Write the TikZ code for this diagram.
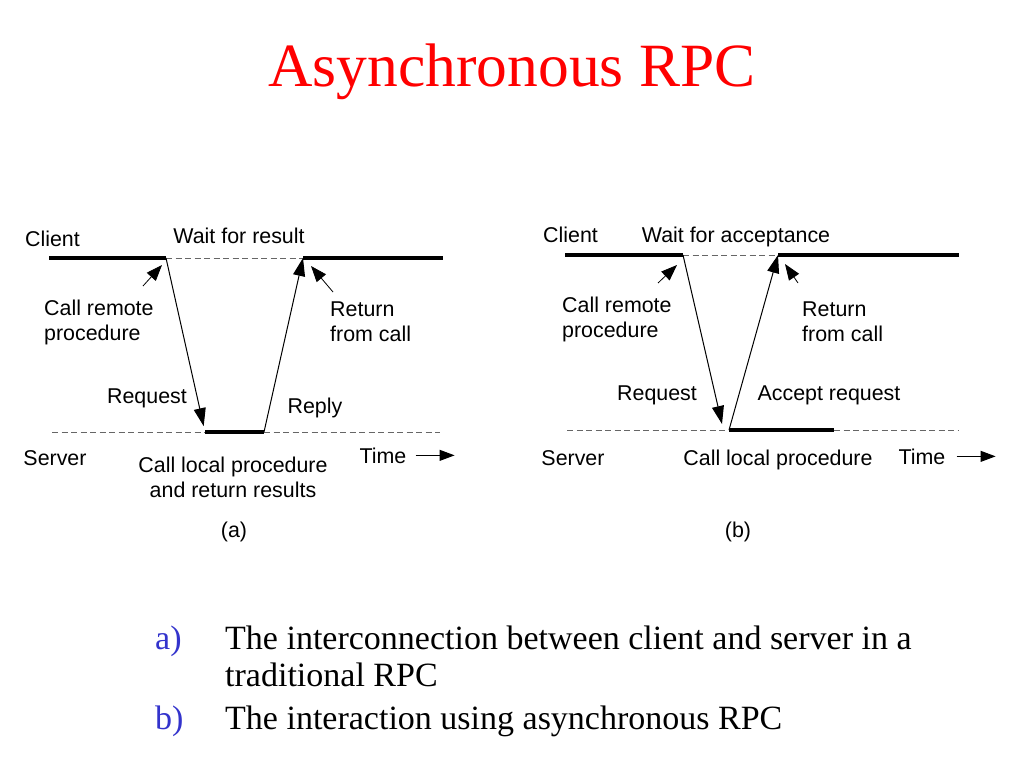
\documentclass[tikz,border=0pt]{standalone}
\usepackage{fontspec}
\setmainfont{Liberation Serif}
\setsansfont{Liberation Sans}
\usetikzlibrary{positioning, arrows.meta}

\definecolor{itemblue}{RGB}{51,51,204}

\begin{document}
\begin{tikzpicture}[x=1pt, y=-1pt,
  lbl/.style={font=\sffamily\fontsize{21.4}{25}\selectfont, inner sep=0pt, anchor=base},
  mlbl/.style={lbl, align=left, anchor=north west},
  busy/.style={line width=4.5pt},
  idle/.style={black!60, line width=1pt, dash pattern=on 6pt off 3.5pt},
  msg/.style={line width=1pt, -{Triangle[length=18pt, width=12pt]}},
  hint/.style={line width=0.8pt, -{Triangle[length=16pt, width=12pt]}},
  tarrow/.style={line width=1pt, -{Triangle[length=15pt, width=11pt]}},
  bullet/.style={font=\fontsize{34}{37}\selectfont, inner sep=0pt}]
  \useasboundingbox (0,0) rectangle (1024,768);

  % title
  \node[red, font=\fontsize{61.5}{70}\selectfont, inner sep=0pt, anchor=base] (title) at (512,86) {Asynchronous RPC};

  % (a) traditional RPC
  \coordinate (a-c0) at (49,258);
  \coordinate (a-c1) at (166,258);
  \coordinate (a-c2) at (303,258);
  \coordinate (a-c3) at (443,258);
  \coordinate (a-s0) at (52,432);
  \coordinate (a-s1) at (205,432);
  \coordinate (a-s2) at (264,432);
  \coordinate (a-s3) at (440,432);
  \coordinate (a-h1) at (143,286);
  \coordinate (a-h1t) at (162,265);
  \coordinate (a-h2) at (333,292);
  \coordinate (a-h2t) at (311,266);

  \draw[busy] (a-c0) -- (a-c1);
  \draw[idle] (a-c1) -- (a-c2);
  \draw[busy] (a-c2) -- (a-c3);
  \draw[idle] (a-s0) -- (a-s1);
  \draw[busy] (a-s1) -- (a-s2);
  \draw[idle] (a-s2) -- (a-s3);
  \draw[msg, shorten >=6pt] (a-c1) -- (a-s1);
  \draw[msg] (a-s2) -- (a-c2);
  \draw[hint] (a-h1) -- (a-h1t);
  \draw[hint] (a-h2) -- (a-h2t);

  \node[lbl] (a-client) at (52.5,246) {Client};
  \node[lbl] (a-wait) at (239,243) {Wait for result};
  \node[mlbl] (a-call) at (44,300) {Call remote\\procedure};
  \node[mlbl] (a-ret) at (330,302) {Return\\from call};
  \node[lbl] (a-req) at (147,403) {Request};
  \node[lbl] (a-reply) at (315,413) {Reply};
  \node[lbl] (a-server) at (55,465) {Server};
  \node[lbl, align=center, anchor=north] (a-local) at (233,457) {Call local procedure\\and return results};
  \node[lbl] (a-time) at (383,463) {Time};
  \draw[tarrow] ([xshift=9pt]a-time.east) -- ([xshift=48pt]a-time.east);
  \node[lbl] (a-tag) at (234,537) {(a)};

  % (b) asynchronous RPC
  \coordinate (b-c0) at (565,255);
  \coordinate (b-c1) at (683,255);
  \coordinate (b-c2) at (778,255);
  \coordinate (b-c3) at (959,255);
  \coordinate (b-s0) at (567,430);
  \coordinate (b-s1) at (729,430);
  \coordinate (b-s2) at (834,430);
  \coordinate (b-s3) at (958,430);
  \coordinate (b-rq) at (722,424);
  \coordinate (b-h1) at (658,283);
  \coordinate (b-h1t) at (677,265);
  \coordinate (b-h2) at (798,283);
  \coordinate (b-h2t) at (785,264);

  \draw[busy] (b-c0) -- (b-c1);
  \draw[idle] (b-c1) -- (b-c2);
  \draw[busy] (b-c2) -- (b-c3);
  \draw[idle] (b-s0) -- (b-s1);
  \draw[busy] (b-s1) -- (b-s2);
  \draw[idle] (b-s2) -- (b-s3);
  \draw[msg] (b-c1) -- (b-rq);
  \draw[msg] (b-s1) -- (b-c2);
  \draw[hint] (b-h1) -- (b-h1t);
  \draw[hint] (b-h2) -- (b-h2t);

  \node[lbl] (b-client) at (570.5,242) {Client};
  \node[lbl] (b-wait) at (736,242) {Wait for acceptance};
  \node[mlbl] (b-call) at (562,297) {Call remote\\procedure};
  \node[mlbl] (b-ret) at (802,302) {Return\\from call};
  \node[lbl] (b-req) at (657,400) {Request};
  \node[lbl] (b-accept) at (829,400) {Accept request};
  \node[lbl] (b-server) at (573,465) {Server};
  \node[lbl] (b-local) at (778,465) {Call local procedure};
  \node[lbl] (b-time) at (922,464) {Time};
  \draw[tarrow] ([xshift=11pt]b-time.east) -- ([xshift=50pt]b-time.east);
  \node[lbl] (b-tag) at (738,537) {(b)};

  % captions
  \node[bullet, itemblue, anchor=base west] (cap-a) at (155,649) {a)};
  \node[bullet, align=left, anchor=north west] (cap-a-txt) at (225,626) {The interconnection between client and server in a\\traditional RPC};
  \node[bullet, itemblue, anchor=base west] (cap-b) at (155,729) {b)};
  \node[bullet, anchor=base west] (cap-b-txt) at (225,729) {The interaction using asynchronous RPC};
\end{tikzpicture}
\end{document}
